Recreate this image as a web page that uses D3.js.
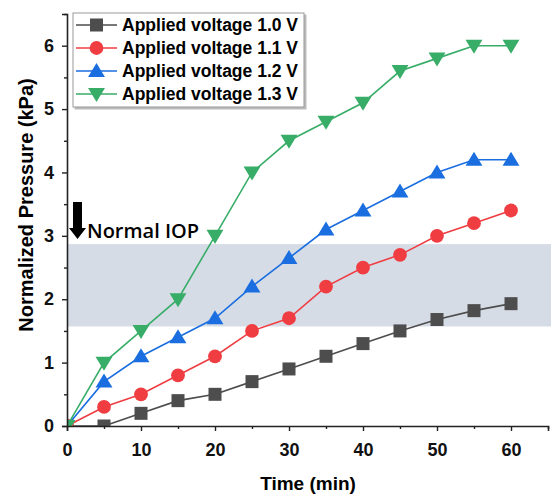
<!DOCTYPE html>
<html>
<head>
<meta charset="utf-8">
<script src="https://cdn.jsdelivr.net/npm/d3@7"></script>
<style>
  body { margin: 0; background: #fff; }
  svg { display: block; font-family: "Liberation Sans", Arial, sans-serif; }
</style>
</head>
<body>
<div id="chart"></div>
<script>
// data
const times = [0, 5, 10, 15, 20, 25, 30, 35, 40, 45, 50, 55, 60];
const v10 = [0, 0, 0.2, 0.4, 0.5, 0.7, 0.9, 1.1, 1.3, 1.5, 1.68, 1.82, 1.93];
const v11 = [0, 0.3, 0.5, 0.8, 1.1, 1.5, 1.7, 2.2, 2.5, 2.7, 3.0, 3.2, 3.4];
const v12 = [0, 0.7, 1.1, 1.4, 1.7, 2.2, 2.65, 3.1, 3.4, 3.7, 4.0, 4.2, 4.2];
const v13 = [0, 1.0, 1.5, 2.0, 3.0, 4.0, 4.5, 4.8, 5.1, 5.6, 5.8, 6.0, 6.0];
const seriesNames = ["Applied voltage 1.0 V", "Applied voltage 1.1 V", "Applied voltage 1.2 V", "Applied voltage 1.3 V"];
const xTicks = [0, 10, 20, 30, 40, 50, 60];
const yTicks = [0, 1, 2, 3, 4, 5, 6];
const iopBand = [1.57, 2.87];

const colors = ["#4d4d4d", "#ef3d42", "#1a6ee0", "#38ad68"];
const shapes = ["square", "circle", "up", "down"];
const seriesVals = [v10, v11, v12, v13];

const W = 551, H = 496;
const margin = {top: 14, right: 3, bottom: 70, left: 67};
const width = W - margin.left - margin.right,
    height = H - margin.top - margin.bottom;

const svg = d3.select("#chart").append("svg")
    .attr("width", W)
    .attr("height", H);

const g = svg.append("g")
    .attr("transform", "translate(" + margin.left + "," + margin.top + ")");

const x = d3.scaleLinear().domain([0, 65]).range([0, width]);
const y = d3.scaleLinear().domain([0, 6.5]).range([height, 0]);

// normal IOP band (runs to the right edge of the image)
g.append("rect")
    .attr("x", x(0))
    .attr("y", y(iopBand[1]))
    .attr("width", W - margin.left)
    .attr("height", y(iopBand[0]) - y(iopBand[1]))
    .attr("fill", "#d6dce6");

// clip for marks
g.append("clipPath").attr("id", "plot")
  .append("rect").attr("x", 0).attr("y", -10).attr("width", width + 10).attr("height", height + 10);

function marker(sel, shape, color, s) {
  if (shape === "circle") {
    sel.append("circle").attr("r", s * 0.53).attr("fill", color);
  } else if (shape === "square") {
    sel.append("rect").attr("x", -s / 2).attr("y", -s / 2).attr("width", s).attr("height", s).attr("fill", color);
  } else if (shape === "up") {
    sel.append("path").attr("d", `M0,${-s * 0.62}L${s * 0.65},${s * 0.46}L${-s * 0.65},${s * 0.46}Z`).attr("fill", color);
  } else {
    sel.append("path").attr("d", `M0,${s * 0.62}L${s * 0.65},${-s * 0.46}L${-s * 0.65},${-s * 0.46}Z`).attr("fill", color);
  }
}

const line = d3.line().x((d, i) => x(times[i])).y(d => y(d));

const marks = g.append("g").attr("clip-path", "url(#plot)");
seriesVals.forEach((vals, k) => {
  marks.append("path")
      .datum(vals)
      .attr("d", line)
      .attr("fill", "none")
      .attr("stroke", colors[k])
      .attr("stroke-width", 1.6);
  marks.selectAll(".m" + k)
    .data(vals)
    .enter()
    .append("g")
      .attr("transform", (d, i) => "translate(" + x(times[i]) + "," + y(d) + ")")
      .each(function () { marker(d3.select(this), shapes[k], colors[k], 13); });
});

// axes
const xAxis = g.append("g")
    .attr("transform", "translate(0," + height + ")")
    .call(d3.axisBottom(x).tickValues(d3.range(0, 66, 5)).tickSize(5).tickFormat(d => xTicks.includes(d) ? d : ""));
const yAxis = g.append("g")
    .call(d3.axisLeft(y).tickValues(d3.range(0, 6.6, 0.5)).tickSize(5).tickFormat(d => yTicks.includes(d) ? d : ""));

[xAxis, yAxis].forEach(a => {
  a.select(".domain").attr("stroke", "#222").attr("stroke-width", 1.6);
  a.selectAll(".tick line").attr("stroke", "#222").attr("stroke-width", 1.4);
  a.selectAll("text").attr("fill", "#111").style("font-size", "18px").style("font-weight", "bold");
});
xAxis.selectAll(".tick").filter(d => !xTicks.includes(d)).select("line").attr("y2", 3);
yAxis.selectAll(".tick").filter(d => !yTicks.includes(d)).select("line").attr("x2", -3);
xAxis.selectAll("text").attr("dy", null).attr("y", 30);
yAxis.selectAll("text").attr("x", -13);

// axis titles
svg.append("text")
    .attr("x", 308)
    .attr("y", 490)
    .attr("text-anchor", "middle")
    .style("font-size", "19px").style("font-weight", "bold")
    .text("Time (min)");
svg.append("text")
    .attr("transform", "translate(33,205)rotate(-90)")
    .attr("text-anchor", "middle")
    .style("font-size", "20px").style("font-weight", "bold")
    .text("Normalized Pressure (kPa)");

// normal IOP arrow + label
svg.append("path")
    .attr("d", "M73,202H82V228H86L77.5,239L69,228H73Z")
    .attr("fill", "#000");
svg.append("text")
    .attr("x", 87)
    .attr("y", 238)
    .style("font-family", "'Open Sans', 'Noto Sans', sans-serif")
    .style("font-size", "20px").style("font-weight", "600")
    .text("Normal IOP");

// legend
const lg = svg.append("g").attr("transform", "translate(73,13)");
lg.append("rect")
    .attr("x", 1.5).attr("y", 1.5).attr("width", 232).attr("height", 95)
    .attr("fill", "#bbb");
lg.append("rect")
    .attr("width", 231).attr("height", 94)
    .attr("fill", "#fff").attr("stroke", "#999").attr("stroke-width", 1);
seriesNames.forEach((name, k) => {
  const row = lg.append("g").attr("transform", "translate(0," + (12 + k * 23) + ")");
  row.append("line").attr("x1", 3).attr("x2", 44).attr("stroke", colors[k]).attr("stroke-width", 1.6);
  marker(row.append("g").attr("transform", "translate(23.5,0)"), shapes[k], colors[k], 13);
  row.append("text")
      .attr("x", 49).attr("y", 6)
      .style("font-size", "17.5px").style("font-weight", "bold")
      .text(name);
});
</script>
</body>
</html>
